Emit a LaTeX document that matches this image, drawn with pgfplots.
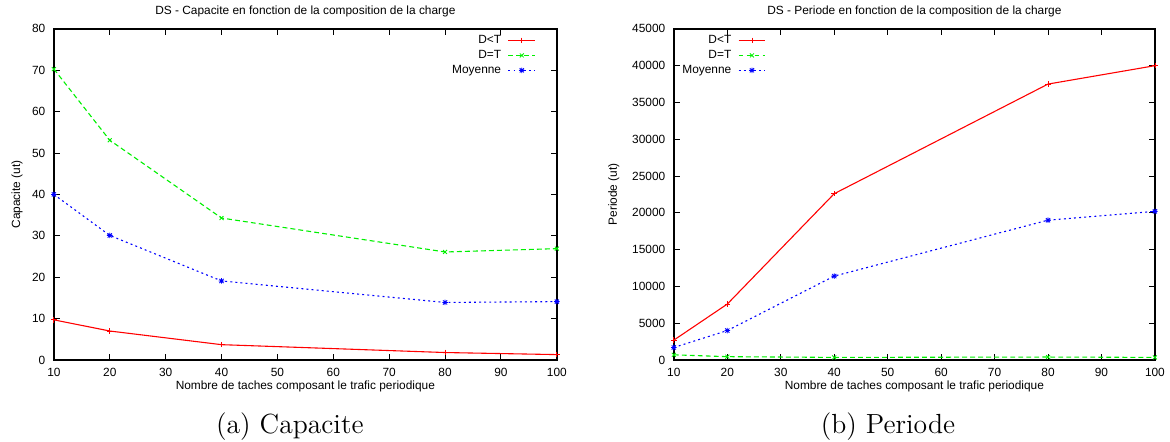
\documentclass[border=0pt]{standalone}
\usepackage{fontspec}
\usepackage{pgfplots}
\pgfplotsset{compat=1.18}
\newfontfamily\gp{Liberation Sans}

% gnuplot style '*' point: a + and an x on top of each other
\pgfdeclareplotmark{gpstar}{%
  \pgfpathmoveto{\pgfqpoint{-\pgfplotmarksize}{0pt}}%
  \pgfpathlineto{\pgfqpoint{\pgfplotmarksize}{0pt}}%
  \pgfpathmoveto{\pgfqpoint{0pt}{-\pgfplotmarksize}}%
  \pgfpathlineto{\pgfqpoint{0pt}{\pgfplotmarksize}}%
  \pgfpathmoveto{\pgfqpoint{-0.75\pgfplotmarksize}{-0.75\pgfplotmarksize}}%
  \pgfpathlineto{\pgfqpoint{0.75\pgfplotmarksize}{0.75\pgfplotmarksize}}%
  \pgfpathmoveto{\pgfqpoint{-0.75\pgfplotmarksize}{0.75\pgfplotmarksize}}%
  \pgfpathlineto{\pgfqpoint{0.75\pgfplotmarksize}{-0.75\pgfplotmarksize}}%
  \pgfusepathqstroke}

\definecolor{gpred}{RGB}{255,0,0}
\definecolor{gpgreen}{RGB}{0,240,0}
\definecolor{gpblue}{RGB}{0,0,255}

\pgfplotsset{
  gpaxis/.style={
    scale only axis,
    height=136.4pt,
    xmin=10, xmax=100,
    xtick={10,20,...,100},
    ymin=0,
    tick align=inside,
    major tick length=2.5pt,
    axis line style={line width=0.6pt},
    tick style={line width=0.4pt,black},
    tick label style={font=\gp\fontsize{4.9}{5.5}\selectfont},
    /pgf/number format/assume math mode=true,
    /pgf/number format/1000 sep={},
    scaled y ticks=false,
    label style={font=\gp\fontsize{4.9}{5.5}\selectfont},
    every axis title/.style={font=\gp\fontsize{4.9}{5.5}\selectfont, at={(axis description cs:0.5,1)}, anchor=center, yshift=7pt},
    xlabel style={at={(axis description cs:0.5,0)}, anchor=center, yshift=-11pt},
    legend cell align=right,
    legend plot pos=right,
    legend style={draw=none, fill=none,
      font=\gp\fontsize{4.9}{5.5}\selectfont, row sep=0pt, column sep=2pt, inner sep=0pt,
      nodes={inner sep=0.8pt, text height=3.5pt, text depth=1.05pt}},
    legend image code/.code={\draw[mark repeat=2,mark phase=2,##1] plot coordinates {(0pt,0pt)(5.5pt,0pt)(11pt,0pt)};},
    every axis plot/.append style={line width=0.45pt, mark size=1.15pt, mark options={solid, line width=0.35pt}},
  },
}

\begin{document}
\begin{tikzpicture}
\useasboundingbox (-22.2pt,-33.4pt) rectangle (459.8pt,148.3pt);

\begin{axis}[gpaxis, name=a,
  width=207.2pt,
  ymax=80, ytick={0,10,...,80},
  title={DS - Capacite en fonction de la composition de la charge},
  xlabel={Nombre de taches composant le trafic periodique},
  ylabel={Capacite (ut)},
  ylabel style={at={(axis description cs:-0.073,0.5)}, anchor=center},
  legend style={at={(rel axis cs:1,1)}, anchor=north east, xshift=-8.5pt, yshift=-1.5pt},
]
\addplot[color=gpred, mark=+] coordinates {
  (10,9.7) (20,7.0) (40,3.7) (80,1.8) (100,1.3)
};
\addlegendentry{D<T}
\addplot[color=gpgreen, mark=x, dash pattern=on 2pt off 1.3pt] coordinates {
  (10,70.3) (20,53.1) (40,34.3) (80,26.1) (100,26.9)
};
\addlegendentry{D=T}
\addplot[color=gpblue, mark=gpstar, dash pattern=on 0.8pt off 1.3pt] coordinates {
  (10,40.0) (20,30.1) (40,19.1) (80,13.9) (100,14.1)
};
\addlegendentry{Moyenne}
\end{axis}

\begin{axis}[gpaxis, name=b, at={(255.4pt,0pt)},
  width=198.2pt,
  ymax=45000, ytick={0,5000,...,45000},
  title={DS - Periode en fonction de la composition de la charge},
  xlabel={Nombre de taches composant le trafic periodique},
  ylabel={Periode (ut)},
  ylabel style={at={(axis description cs:-0.125,0.5)}, anchor=center},
  legend style={at={(rel axis cs:0,1)}, anchor=north west, xshift=2.5pt, yshift=-1.5pt},
]
\addplot[color=gpred, mark=+] coordinates {
  (10,2700) (20,7600) (40,22600) (80,37500) (100,40000)
};
\addlegendentry{D<T}
\addplot[color=gpgreen, mark=x, dash pattern=on 2pt off 1.3pt] coordinates {
  (10,700) (20,450) (40,350) (80,400) (100,350)
};
\addlegendentry{D=T}
\addplot[color=gpblue, mark=gpstar, dash pattern=on 0.8pt off 1.3pt] coordinates {
  (10,1700) (20,4000) (40,11400) (80,19000) (100,20200)
};
\addlegendentry{Moyenne}
\end{axis}

\node[anchor=base, font=\fontsize{11.4}{13}\selectfont] at (97.2pt,-30.1pt) {(a)\ Capacite};
\node[anchor=base, font=\fontsize{11.4}{13}\selectfont] at (343.6pt,-30.1pt) {(b)\ Periode};
\end{tikzpicture}
\end{document}
